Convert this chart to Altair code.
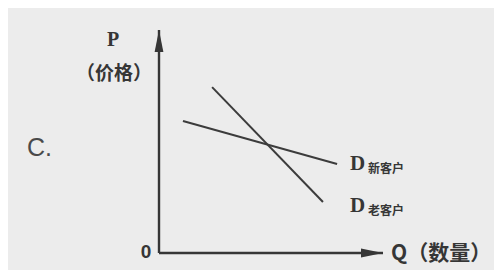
import altair as alt
import pandas as pd

# demand curves (Q, P in arbitrary units)
curve_names = ["D新客户", "D新客户", "D老客户", "D老客户"]
curve_q = [1.07, 7.95, 2.37, 7.32]
curve_p = [5.92, 3.99, 7.44, 2.29]

# axes extents
axis_end = 10

# labels
serif_text = ["P", "D", "D"]
serif_q = [-2.05, 8.53, 8.53]
serif_p = [9.55, 4.01, 2.11]
serif_align = ["center", "left", "left"]

cjk_text = ["（价格）", "Q（数量）"]
cjk_q = [-2.01, 10.36]
cjk_p = [8.03, -0.06]
cjk_align = ["center", "left"]

sub_text = ["新客户", "老客户"]
sub_q = [9.33, 9.33]
sub_p = [3.75, 1.9]

zero_text = ["0"]
zero_q = [-0.58]
zero_p = [0.04]

option_text = ["C."]
option_q = [-5.89]
option_p = [4.71]

INK = "#363636"
xs = alt.Scale(domain=[-6.741, 14.955], nice=False, zero=False)
ys = alt.Scale(domain=[-0.762, 10.987], nice=False, zero=False)


def X(f="q"):
    return alt.X(f"{f}:Q", scale=xs, axis=None)


def Y(f="p"):
    return alt.Y(f"{f}:Q", scale=ys, axis=None)


curves = pd.DataFrame({"name": curve_names, "q": curve_q, "p": curve_p})
line_layer = alt.Chart(curves).mark_line(color="#3c3c3c", strokeWidth=2).encode(
    x=X(), y=Y(), detail="name:N"
)

axes = pd.DataFrame({"q": [0, 0], "p": [0, 0], "q2": [axis_end, 0], "p2": [0, axis_end]})
axis_layer = alt.Chart(axes).mark_rule(color=INK, strokeWidth=2.4).encode(
    x=X(), y=Y(), x2="q2:Q", y2="p2:Q"
)

arrow_r = alt.Chart(pd.DataFrame({"q": [axis_end], "p": [0]})).mark_point(
    shape="M-2,-0.4 L0,0 L-2,0.4 Z", size=484, filled=True, color=INK, opacity=1
).encode(x=X(), y=Y())
arrow_u = alt.Chart(pd.DataFrame({"q": [0], "p": [axis_end]})).mark_point(
    shape="M-0.4,2 L0,0 L0.4,2 Z", size=484, filled=True, color=INK, opacity=1
).encode(x=X(), y=Y())

serif_df = pd.DataFrame({"t": serif_text, "q": serif_q, "p": serif_p, "a": serif_align})
serif_c = alt.Chart(serif_df[serif_df.a == "center"]).mark_text(
    font="Liberation Serif", fontSize=20, fontWeight="bold", color=INK,
    align="center", baseline="middle"
).encode(x=X(), y=Y(), text="t:N")
serif_l = alt.Chart(serif_df[serif_df.a == "left"]).mark_text(
    font="Liberation Serif", fontSize=21, fontWeight="bold", color=INK,
    align="left", baseline="middle"
).encode(x=X(), y=Y(), text="t:N")

cjk_df = pd.DataFrame({"t": cjk_text, "q": cjk_q, "p": cjk_p, "a": cjk_align})
cjk_c = alt.Chart(cjk_df[cjk_df.a == "center"]).mark_text(
    font="Noto Sans CJK SC", fontSize=19, fontWeight="bold", color=INK,
    align="center", baseline="middle"
).encode(x=X(), y=Y(), text="t:N")
cjk_l = alt.Chart(cjk_df[cjk_df.a == "left"]).mark_text(
    font="Noto Sans CJK SC", fontSize=21, fontWeight="bold", color=INK,
    align="left", baseline="middle"
).encode(x=X(), y=Y(), text="t:N")

sub_layer = alt.Chart(pd.DataFrame({"t": sub_text, "q": sub_q, "p": sub_p})).mark_text(
    font="Noto Sans CJK SC", fontSize=12, fontWeight="bold", color=INK,
    align="left", baseline="middle"
).encode(x=X(), y=Y(), text="t:N")

zero_layer = alt.Chart(pd.DataFrame({"t": zero_text, "q": zero_q, "p": zero_p})).mark_text(
    font="Liberation Sans", fontSize=19, fontWeight="bold", color=INK,
    align="center", baseline="middle"
).encode(x=X(), y=Y(), text="t:N")

option_layer = alt.Chart(pd.DataFrame({"t": option_text, "q": option_q, "p": option_p})).mark_text(
    font="Liberation Sans", fontSize=25, color="#4a4a4a", align="left", baseline="middle"
).encode(x=X(), y=Y(), text="t:N")

chart = alt.layer(
    axis_layer, line_layer, arrow_r, arrow_u,
    serif_c, serif_l, cjk_c, cjk_l, sub_layer, zero_layer, option_layer
).properties(
    width=486, height=262, autosize=alt.AutoSizeParams(type="none"),
    padding=0, background="#ececec"
).configure_view(stroke=None)

chart.save("out.html", embed_options={"renderer": "svg", "actions": False})
